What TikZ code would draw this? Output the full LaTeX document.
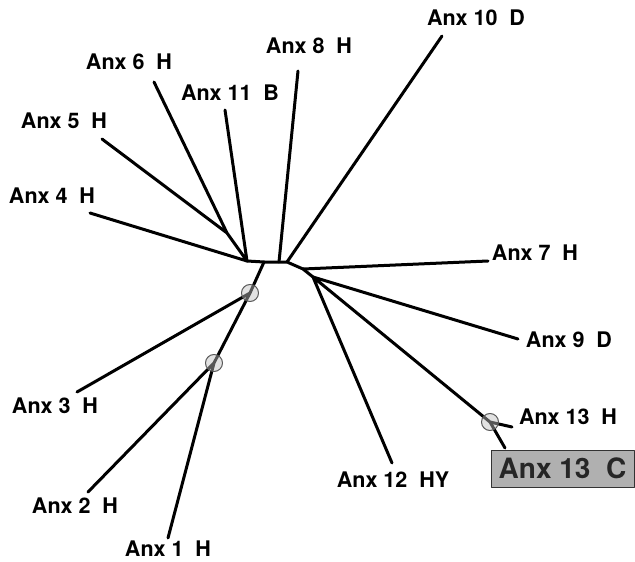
\documentclass[tikz,border=0pt]{standalone}
\usepackage{fontspec}
\setmainfont{TeX Gyre Heros}
\usepackage{tikz}

\begin{document}
\begin{tikzpicture}[x=1bp, y=-1bp, line width=3bp, line cap=round, line join=round,
  leaf/.style={font=\fontsize{21.5bp}{24bp}\selectfont\bfseries, inner sep=0pt},
  hit/.style={circle, minimum size=17bp, inner sep=0pt, draw=gray!70!black, line width=1bp, fill=gray!50, fill opacity=0.45},
  mark13/.style={draw=gray!40!black, line width=1bp, fill=gray!62, minimum width=143bp, minimum height=37bp, inner sep=0pt, font=\fontsize{28bp}{30bp}\selectfont\bfseries, text=black!85}]
\useasboundingbox (0,0) rectangle (635,562);
% branch points
\coordinate (B1) at (247,261);
\coordinate (J56) at (227,233);
\coordinate (B2) at (264,262);
\coordinate (B3) at (279,262);
\coordinate (B4) at (287,262);
\coordinate (B5) at (303,269);
\coordinate (B6) at (313,277);
\coordinate (H1) at (250,293);
\coordinate (H2) at (214,363);
\coordinate (H3) at (490,422);
% leaf tips
\coordinate (t1) at (168,538);
\coordinate (t2) at (88,492);
\coordinate (t3) at (77,392);
\coordinate (t4) at (90,213);
\coordinate (t5) at (102,139);
\coordinate (t6) at (154,82);
\coordinate (t11) at (225,110);
\coordinate (t8) at (298,71);
\coordinate (t10) at (442,36);
\coordinate (t7) at (488,261);
\coordinate (t9) at (518,339);
\coordinate (t12) at (392,463);
\coordinate (t13h) at (512,427);
\coordinate (t13c) at (505,448);
% labels
\node[leaf] (l1) at (168,549) {Anx 1~~H};
\node[leaf] (l2) at (75,506) {Anx 2~~H};
\node[leaf] (l3) at (55,406) {Anx 3~~H};
\node[leaf] (l4) at (52,196) {Anx 4~~H};
\node[leaf] (l5) at (64,121) {Anx 5~~H};
\node[leaf] (l6) at (129,62) {Anx 6~~H};
\node[leaf] (l11) at (230,93) {Anx 11~~B};
\node[leaf] (l8) at (309,46) {Anx 8~~H};
\node[leaf] (l10) at (476,18) {Anx 10~~D};
\node[leaf] (l7) at (535,253) {Anx 7~~H};
\node[leaf] (l9) at (569,340) {Anx 9~~D};
\node[leaf] (l13h) at (568,417) {Anx 13~~H};
\node[leaf] (l12) at (393,480) {Anx 12~~HY};
\node[mark13] (l13c) at (562.5,468.5) {Anx 13~~C};
% tree
\draw (B1) -- (B2) -- (B3) -- (B4) -- (B5) -- (B6);
\draw (t4) -- (B1) (t5) -- (J56) -- (B1) (t6) -- (J56) (t11) -- (B1);
\draw (t8) -- (B3) (t10) -- (B4) (t7) -- (B5);
\draw (B2) -- (H1) -- (H2) (t3) -- (H1) (t2) -- (H2) (t1) -- (H2);
\draw (t12) -- (B6) -- (t9) (B6) -- (H3) -- (t13h) (H3) -- (t13c);
\node[hit] (c1) at (H1) {};
\node[hit] (c2) at (H2) {};
\node[hit] (c3) at (H3) {};
\end{tikzpicture}
\end{document}
